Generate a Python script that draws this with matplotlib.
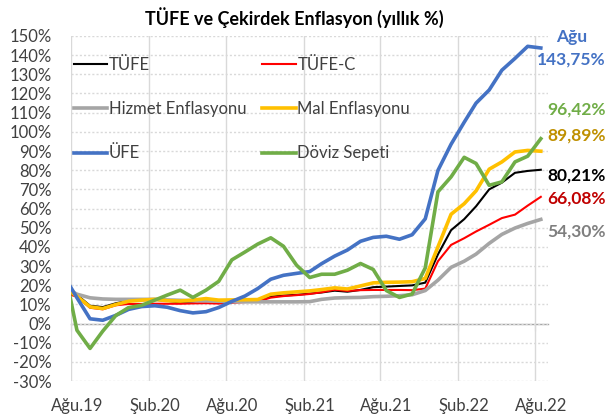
import numpy as np
import pandas as pd
import matplotlib
matplotlib.use('Agg')
import matplotlib.pyplot as plt

plt.rcParams['font.family'] = ['Lato', 'DejaVu Sans']

# mid-month points, Jul 2019 .. Aug 2022 (first point falls left of the axis and is clipped)
months = pd.date_range('2019-07-01', periods=38, freq='MS') + pd.Timedelta(days=14)

tufe = [16.65, 15.01, 9.26, 8.55, 10.56, 11.84, 12.15, 12.37, 11.86, 10.94, 11.39, 12.62,
        11.76, 11.77, 11.75, 11.89, 14.03, 14.60, 14.97, 15.61, 16.19, 17.14, 16.59, 17.53,
        18.95, 19.25, 19.58, 19.89, 21.31, 36.08, 48.69, 54.44, 61.14, 69.97, 73.50, 78.62,
        79.60, 80.21]
tufe_c = [16.0, 14.0, 8.2, 7.4, 9.5, 10.2, 10.2, 10.3, 10.3, 10.3, 10.5, 10.6,
          10.4, 10.8, 11.2, 11.5, 13.5, 14.3, 14.8, 15.4, 16.3, 17.6, 17.0, 17.4,
          17.5, 17.5, 17.5, 17.4, 18.2, 32.5, 41.0, 44.5, 48.0, 51.5, 55.0, 56.8,
          61.5, 66.08]
hizmet = [19.0, 15.3, 13.4, 12.8, 12.6, 12.6, 12.6, 12.6, 12.3, 12.1, 11.9, 11.8,
          11.6, 11.4, 11.3, 11.3, 11.3, 11.3, 11.3, 11.4, 12.6, 13.3, 13.5, 13.6,
          14.0, 14.2, 14.5, 15.0, 17.2, 22.6, 29.3, 32.5, 36.2, 41.8, 46.5, 49.8,
          52.2, 54.30]
mal = [19.0, 14.2, 8.7, 7.8, 9.9, 11.6, 12.2, 12.6, 11.9, 11.7, 12.2, 13.0,
       12.2, 12.3, 12.4, 12.5, 15.3, 16.0, 16.5, 17.0, 17.7, 18.6, 18.0, 19.6,
       21.2, 21.5, 21.6, 21.8, 23.5, 40.0, 57.0, 62.5, 69.2, 80.5, 84.3, 89.5,
       90.3, 89.89]
ufe = [25.0, 13.45, 2.45, 1.70, 4.26, 7.36, 8.84, 9.26, 8.50, 6.71, 5.53, 6.17,
       8.33, 11.53, 14.33, 18.20, 23.11, 25.15, 26.16, 27.09, 31.20, 35.17, 38.33, 42.89,
       44.92, 45.52, 43.96, 46.31, 54.62, 79.89, 93.53, 105.01, 114.97, 121.82, 132.16, 138.31,
       144.61, 143.75]
doviz = [29.8, -3.5, -13.0, -4.0, 4.2, 8.3, 9.5, 12.2, 14.8, 17.4, 13.6, 17.4,
         22.0, 33.2, 37.3, 41.4, 44.7, 40.3, 30.4, 24.0, 25.7, 25.7, 27.8, 31.3,
         28.2, 17.2, 13.6, 15.4, 29.0, 68.7, 76.5, 86.7, 83.5, 72.1, 73.9, 84.3,
         87.3, 96.42]

tick_dates = pd.date_range('2019-08-01', '2022-08-01', freq='6MS')
tick_labels = ['Ağu.19', 'Şub.20', 'Ağu.20', 'Şub.21', 'Ağu.21', 'Şub.22', 'Ağu.22']

end_labels = ['143,75%', '96,42%', '89,89%', '80,21%', '66,08%', '54,30%']

fig = plt.figure(figsize=(6.09, 4.15), dpi=100)
ax = fig.add_axes([71/609, 1-381/415, 477/609, 345/415])

h1, = ax.plot(months, tufe, color='black', lw=1.5, label='TÜFE')
h2, = ax.plot(months, tufe_c, color='#FF0000', lw=1.5, label='TÜFE-C')
h3, = ax.plot(months, hizmet, color='#A5A5A5', lw=2.6, label='Hizmet Enflasyonu')
h4, = ax.plot(months, mal, color='#FFC000', lw=2.6, label='Mal Enflasyonu')
h5, = ax.plot(months, ufe, color='#4472C4', lw=2.6, label='ÜFE')
h6, = ax.plot(months, doviz, color='#70AD47', lw=2.6, label='Döviz Sepeti')

ax.set_xlim(pd.Timestamp('2019-08-01'), pd.Timestamp('2022-09-01'))
ax.set_ylim(-30, 150)

yt = np.arange(-30, 151, 10)
ax.set_yticks(yt)
ax.set_yticklabels([f'{v}%' for v in yt])
ax.set_xticks(tick_dates + pd.Timedelta(days=14))
ax.set_xticklabels(tick_labels)
ax.set_xticks(tick_dates, minor=True)
ax.tick_params(axis='x', which='both', length=0, pad=12, labelsize=12, colors='#404040')
ax.tick_params(axis='y', length=0, pad=14, labelsize=12, colors='#404040')

ax.xaxis.grid(True, which='minor', color='#D9D9D9', lw=1)
ax.yaxis.grid(True, which='major', color='#D9D9D9', lw=1, linestyle=(0, (1.5, 1.5)))
ax.set_axisbelow(True)
for s in ax.spines.values():
    s.set_visible(False)

# zero line with tick marks
zero = ax.secondary_xaxis(30/180)
zero.set_xticks(tick_dates)
zero.tick_params(length=5, color='#A6A6A6', labelbottom=False, direction='out')
zero.spines['bottom'].set_color('#A6A6A6')
zero.spines['bottom'].set_linewidth(1)

order = [h1, h3, h5, h2, h4, h6]
leg = ax.legend(order, [h.get_label() for h in order],
                ncol=2, loc='upper left', bbox_to_anchor=(0.006, 0.94), frameon=False,
                borderaxespad=0, borderpad=0, fontsize=12, handlelength=2.0,
                handletextpad=0.1, labelspacing=1.7, columnspacing=0.95)
for t in leg.get_texts():
    t.set_color('#404040')

fig.text(294/609, 1-18/415, 'TÜFE ve Çekirdek Enflasyon (yıllık %)', ha='center', va='center',
         fontsize=13, fontweight='bold')

fig.text(572/609, 1-37/415, 'Ağu', color='#4472C4', ha='center', va='center',
         fontsize=12.5, fontweight='bold')
label_y = [60, 110, 136, 176, 199, 232]
label_c = ['#4472C4', '#70AD47', '#BF9000', 'black', '#C00000', '#7F7F7F']
for txt, yy, cc in zip(end_labels, label_y, label_c):
    fig.text(606/609, 1-yy/415, txt, color=cc, ha='right', va='center',
             fontsize=12.5, fontweight='bold')

fig.savefig('out.png', dpi=100)
